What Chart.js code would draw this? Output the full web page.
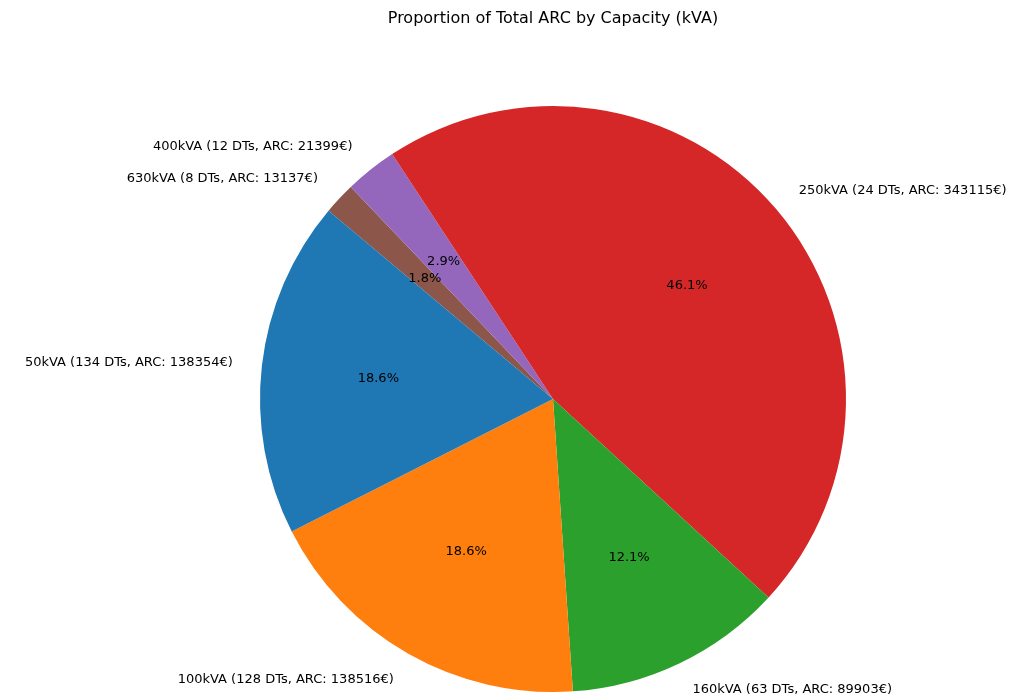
<!DOCTYPE html>
<html lang="en">
<head>
<meta charset="UTF-8">
<title>Proportion of Total ARC by Capacity (kVA)</title>
<script src="https://cdn.jsdelivr.net/npm/chart.js"></script>
<style>
    body { margin: 0; background: #fff; }
    #wrap { width: 1024px; height: 700px; }
</style>
</head>
<body>
<div id="wrap"><canvas id="chart" width="1024" height="700"></canvas></div>
<script>
    // matplotlib order (counterclockwise from 140deg)
    const capacities = ['50kVA', '100kVA', '160kVA', '250kVA', '400kVA', '630kVA'];
    const dtCounts = [134, 128, 63, 24, 12, 8];
    const arcValues = [138354, 138516, 89903, 343115, 21399, 13137];
    const colors = ['#1f77b4', '#ff7f0e', '#2ca02c', '#d62728', '#9467bd', '#8c564b'];

    // Chart.js draws clockwise, so reverse to mimic the counterclockwise layout
    const order = capacities.map((_, i) => i).reverse();
    const labels = order.map(i => `${capacities[i]} (${dtCounts[i]} DTs, ARC: ${arcValues[i]}€)`);
    const values = order.map(i => arcValues[i]);
    const bg = order.map(i => colors[i]);
    const total = values.reduce((a, b) => a + b, 0);

    const pieText = {
        id: 'pieText',
        afterDraw(chart) {
            const ctx = chart.ctx;
            const meta = chart.getDatasetMeta(0);
            ctx.save();
            ctx.fillStyle = '#000';
            ctx.font = '16px "DejaVu Sans"';
            ctx.textAlign = 'center';
            ctx.textBaseline = 'middle';
            ctx.fillText('Proportion of Total ARC by Capacity (kVA)', 553, 19);
            ctx.font = '13px "DejaVu Sans"';
            meta.data.forEach((arc, i) => {
                const mid = (arc.startAngle + arc.endAngle) / 2;
                const r = arc.outerRadius;
                const cx = arc.x, cy = arc.y;
                const px = cx + Math.cos(mid) * r * 0.6;
                const py = cy + Math.sin(mid) * r * 0.6;
                ctx.textAlign = 'center';
                ctx.fillText((values[i] / total * 100).toFixed(1) + '%', px, py);
                const lx = cx + Math.cos(mid) * r * 1.1;
                const ly = cy + Math.sin(mid) * r * 1.1;
                ctx.textAlign = Math.cos(mid) >= 0 ? 'left' : 'right';
                ctx.fillText(labels[i], lx, ly);
            });
            ctx.restore();
        }
    };

    new Chart(document.getElementById('chart').getContext('2d'), {
        type: 'pie',
        data: {
            labels: labels,
            datasets: [{ data: values, backgroundColor: bg, borderWidth: 0 }]
        },
        options: {
            responsive: false,
            animation: false,
            rotation: -50,
            layout: { padding: { top: 106, bottom: 8, left: 260, right: 178 } },
            plugins: { legend: { display: false }, tooltip: { enabled: false } }
        },
        plugins: [pieText]
    });
</script>
</body>
</html>
